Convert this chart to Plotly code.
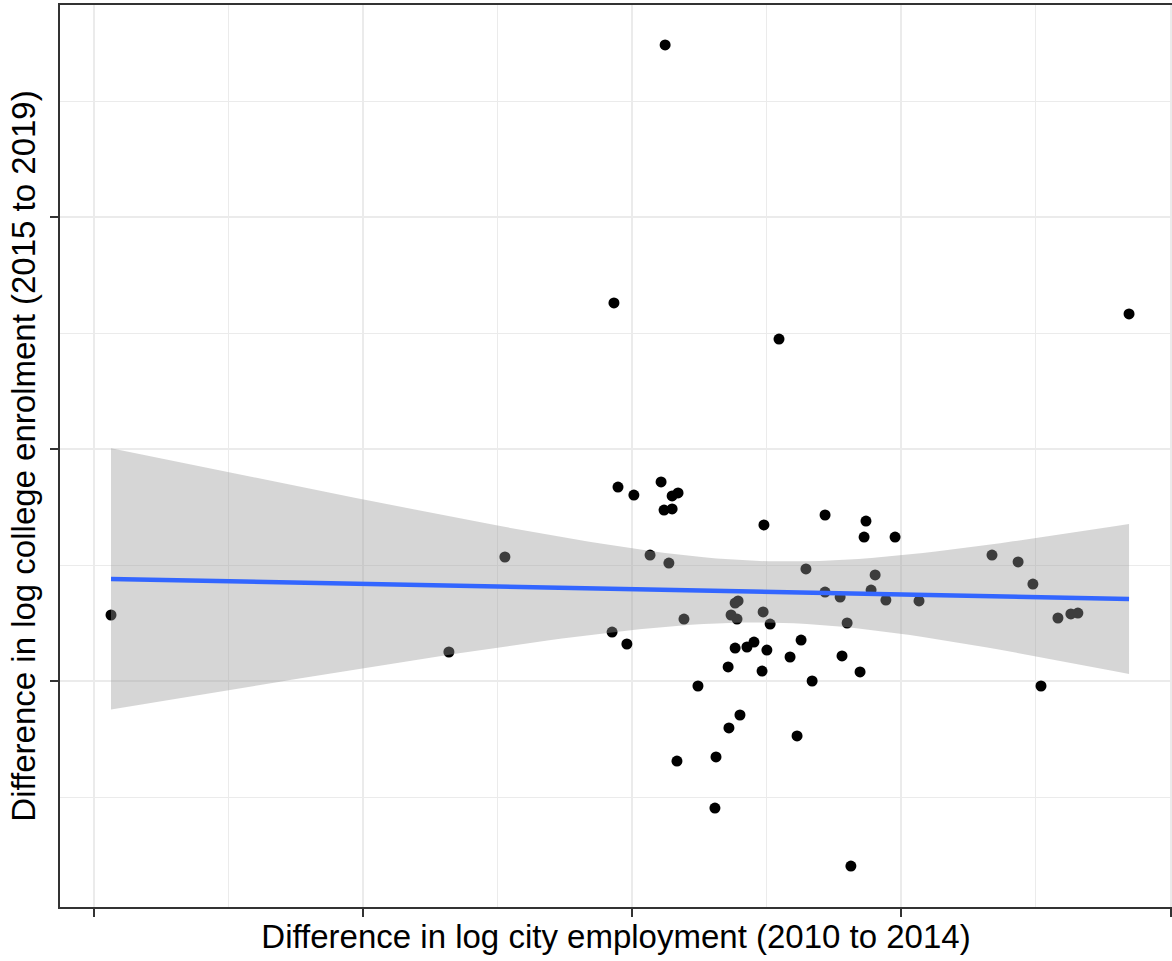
import numpy as np
import plotly.graph_objects as go

# Change in log city employment (2010 to 2014) for each city
emp_change = [
    0.0123, -0.0067, 0.0546, 0.1846, -0.0052, 0.0007, 0.0108, 0.0149,
    0.0171, 0.0119, 0.0149, 0.0490, 0.0717, 0.0869, 0.0862, 0.0977,
    0.0067, 0.0137, -0.0472, -0.1935, -0.0680, -0.0074, -0.0019, 0.0193,
    0.0245, 0.0167, 0.0312, 0.0308, 0.0360, 0.0401, 0.0357, 0.0383,
    0.0427, 0.0453, 0.0368, 0.0390, 0.0383, 0.0394, 0.0487, 0.0513,
    0.0501, 0.0483, 0.0587, 0.0628, 0.0613, 0.0669, 0.0646, 0.0717,
    0.0773, 0.0799, 0.0780, 0.0847, 0.0813, 0.0903, 0.0888, 0.0943,
    0.1066, 0.1337, 0.1434, 0.1489, 0.1519, 0.1582, 0.1630, 0.1656,
]

# Change in log college enrolment (2015 to 2019) for the same cities
enrol_change = [
    0.3483, 0.1259, 0.0948, 0.1164, -0.0328, -0.0397, -0.0284, -0.0405,
    -0.0379, -0.0526, -0.0517, -0.0655, -0.0569, -0.0621, -0.0759, -0.0759,
    -0.0914, -0.0983, -0.0931, -0.1431, -0.1750, -0.1578, -0.1681, -0.1466,
    -0.2043, -0.2690, -0.2655, -0.3095, -0.2405, -0.2293, -0.1879, -0.1716,
    -0.1707, -0.1664, -0.1431, -0.1466, -0.1328, -0.1310, -0.1405, -0.1509,
    -0.1733, -0.1914, -0.1793, -0.1647, -0.2474, -0.2000, -0.1034, -0.1233,
    -0.1276, -0.1500, -0.1784, -0.1922, -0.3595, -0.1086, -0.1216, -0.1302,
    -0.1310, -0.0914, -0.0974, -0.1164, -0.2043, -0.1457, -0.1422, -0.1414,
]

x_ticks = [-0.2, -0.1, 0.0, 0.1, 0.2]
x_minor = [-0.15, -0.05, 0.05, 0.15]
y_ticks = [-0.2, 0.0, 0.2]
y_minor = [-0.3, -0.1, 0.1, 0.3]

x_title = "Difference in log city employment (2010 to 2014)"
y_title = "Difference in log college enrolment (2015 to 2019)"

# Linear fit with a 95% confidence band (as geom_smooth(method = "lm"))
x = np.asarray(emp_change)
y = np.asarray(enrol_change)
n = len(x)
X = np.column_stack([np.ones(n), x])
beta, *_ = np.linalg.lstsq(X, y, rcond=None)
resid = y - X @ beta
df = n - 2
sigma = np.sqrt(resid @ resid / df)
xtx_inv = np.linalg.inv(X.T @ X)

# Student t quantile (0.975) via Cornish-Fisher expansion
z = 1.959963985
t_q = z + (z**3 + z) / (4 * df) + (5 * z**5 + 16 * z**3 + 3 * z) / (96 * df**2)

xs = np.linspace(x.min(), x.max(), 80)
Xs = np.column_stack([np.ones_like(xs), xs])
fit = Xs @ beta
se = sigma * np.sqrt(np.einsum("ij,jk,ik->i", Xs, xtx_inv, Xs))
upper = fit + t_q * se
lower = fit - t_q * se

fig = go.Figure()

fig.add_trace(go.Scatter(
    x=emp_change, y=enrol_change, mode="markers",
    marker=dict(color="black", size=11, line=dict(width=0)),
    showlegend=False, hoverinfo="skip",
))

fig.add_trace(go.Scatter(
    x=np.concatenate([xs, xs[::-1]]),
    y=np.concatenate([upper, lower[::-1]]),
    mode="lines", fill="toself",
    fillcolor="rgba(153,153,153,0.4)",
    line=dict(width=0), showlegend=False, hoverinfo="skip",
))

fig.add_trace(go.Scatter(
    x=xs, y=fit, mode="lines",
    line=dict(color="#3366FF", width=4.5),
    showlegend=False, hoverinfo="skip",
))

W, H = 1172, 961
ml, mr, mt, mb = 60, 0, 5, 54
# pixel scale of the panel
x_per_px = 0.1 / 269.25
y_per_px = 0.2 / 232.0
x_range = [0.0 - (632 - ml) * x_per_px, 0.0 + (W - mr - 632) * x_per_px]
y_range = [0.0 - (H - mb - 449) * y_per_px, 0.0 + (449 - mt) * y_per_px]

axis_font = dict(family="Liberation Sans, Arial, sans-serif", size=33, color="black")

fig.update_layout(
    width=W, height=H,
    margin=dict(l=ml, r=mr, t=mt, b=mb),
    paper_bgcolor="white", plot_bgcolor="white",
    xaxis=dict(
        range=x_range, tickvals=x_ticks, showticklabels=False,
        ticks="outside", ticklen=8, tickwidth=2, tickcolor="#333333",
        showgrid=True, gridcolor="#EBEBEB", gridwidth=2,
        minor=dict(tickvals=x_minor, showgrid=True, gridcolor="#EBEBEB",
                   gridwidth=1, ticks=""),
        showline=True, linecolor="#333333", linewidth=2, mirror=True,
        zeroline=False, automargin=False,
        title=dict(text=x_title, font=axis_font, standoff=9),
    ),
    yaxis=dict(
        range=y_range, tickvals=y_ticks, showticklabels=False,
        ticks="outside", ticklen=8, tickwidth=2, tickcolor="#333333",
        showgrid=True, gridcolor="#EBEBEB", gridwidth=2,
        minor=dict(tickvals=y_minor, showgrid=True, gridcolor="#EBEBEB",
                   gridwidth=1, ticks=""),
        showline=True, linecolor="#333333", linewidth=2,
        zeroline=False, automargin=False,
        title=dict(text=y_title, font=axis_font, standoff=4),
    ),
)

fig.write_html("out.html")
